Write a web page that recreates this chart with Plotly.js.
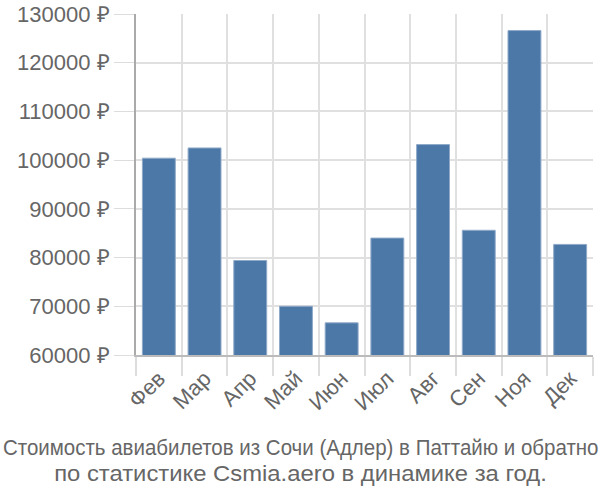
<!DOCTYPE html>
<html><head><meta charset="utf-8">
<script src="https://cdn.plot.ly/plotly-3.0.1.min.js"></script>
<style>body{margin:0;background:#fff}#c{width:600px;height:500px}</style>
</head><body><div id="c"></div>
<script>
const months = ["Фев","Мар","Апр","Май","Июн","Июл","Авг","Сен","Ноя","Дек"];
const prices = [100400, 102500, 79400, 70000, 66600, 84000, 103200, 85600, 126600, 82700];
const yTicks = [60000,70000,80000,90000,100000,110000,120000,130000];
const yTickText = yTicks.map(v => v + " ₽");
const titleLines = ["Стоимость авиабилетов из Сочи (Адлер) в Паттайю и обратно","по статистике Csmia.aero в динамике за год."];
const titleWidths = [596, 493];

const titleFont = {family: "Liberation Sans, Arial, sans-serif", size: 22, color: "#666"};
Plotly.newPlot("c", [{
  type: "bar", x: months, y: prices,
  marker: {color: "#4c78a8", line: {color: "#8fa9c9", width: 1}},
  hoverinfo: "none"
}], {
  width: 600, height: 500,
  margin: {l: 136, r: 7, t: 14, b: 145},
  bargap: 0.28,
  paper_bgcolor: "#fff", plot_bgcolor: "#fff",
  font: {family: "Liberation Sans, Arial, sans-serif", color: "#666", size: 20},
  showlegend: false,
  xaxis: {
    type: "category", tickson: "boundaries", ticks: "outside", ticklen: 19,
    tickcolor: "#ddd", tickwidth: 2, showgrid: true, gridcolor: "#e0e0e0", gridwidth: 2,
    showline: true, linecolor: "#bbb", linewidth: 2,
    tickangle: -45, tickfont: {size: 22, color: "#666"}
  },
  yaxis: {
    range: [60000, 130000], tickvals: yTicks, ticktext: yTickText,
    ticks: "outside", ticklen: 20, tickcolor: "#ddd", tickwidth: 1,
    showgrid: true, gridcolor: "#e0e0e0", gridwidth: 2,
    showline: true, linecolor: "#aaa", linewidth: 2, zeroline: false,
    tickfont: {size: 22, color: "#666"}
  },
  annotations: titleLines.map((t, i) => ({
    text: t, xref: "paper", yref: "paper",
    x: 0.5, xanchor: "center", y: 0, yanchor: "middle",
    xshift: 300 - (136 + 457 / 2), yshift: -92 - 26 * i,
    showarrow: false, font: titleFont
  }))
}, {staticPlot: true}).then(() => {
  document.querySelectorAll(".annotation-text").forEach((t, i) => {
    const bb = t.getBBox();
    const cx = bb.x + bb.width / 2;
    const s = titleWidths[i] / bb.width;
    const prev = t.getAttribute("transform") || "";
    t.setAttribute("transform", prev + ` translate(${cx},0) scale(${s},1) translate(${-cx},0)`);
  });
});
</script></body></html>
